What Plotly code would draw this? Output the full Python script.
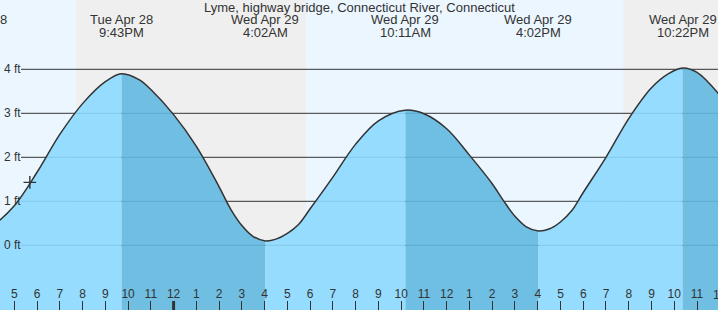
import pandas as pd
import plotly.graph_objects as go

# ---------------- data ----------------
TITLE = "Lyme, highway bridge, Connecticut River, Connecticut"

# tide curve readings (local time, feet)
curve_times = [
    "2020-04-28 15:17", "2020-04-28 16:00", "2020-04-28 17:00", "2020-04-28 18:00",
    "2020-04-28 19:00", "2020-04-28 20:00", "2020-04-28 21:00", "2020-04-28 21:43",
    "2020-04-28 22:30", "2020-04-28 23:00", "2020-04-29 00:00", "2020-04-29 01:00",
    "2020-04-29 02:00", "2020-04-29 02:30", "2020-04-29 03:00", "2020-04-29 03:30",
    "2020-04-29 04:02", "2020-04-29 04:30", "2020-04-29 05:00", "2020-04-29 05:30",
    "2020-04-29 06:00", "2020-04-29 07:00", "2020-04-29 08:00", "2020-04-29 09:00",
    "2020-04-29 10:11", "2020-04-29 11:00", "2020-04-29 12:00", "2020-04-29 13:00",
    "2020-04-29 14:00", "2020-04-29 14:30", "2020-04-29 15:00", "2020-04-29 15:30",
    "2020-04-29 16:02", "2020-04-29 16:30", "2020-04-29 17:00", "2020-04-29 17:30",
    "2020-04-29 18:00", "2020-04-29 19:00", "2020-04-29 20:00", "2020-04-29 21:00",
    "2020-04-29 21:45", "2020-04-29 22:22", "2020-04-29 23:00", "2020-04-30 00:00",
]
curve_ft = [
    0.20, 0.42, 0.90, 1.66,
    2.52, 3.22, 3.72, 3.90,
    3.76, 3.54, 2.97, 2.25,
    1.33, 0.83, 0.45, 0.20,
    0.10, 0.14, 0.27, 0.48,
    0.83, 1.55, 2.30, 2.83,
    3.07, 2.99, 2.65, 2.05,
    1.40, 1.01, 0.66, 0.42,
    0.325, 0.37, 0.53, 0.79,
    1.20, 2.00, 2.88, 3.58,
    3.90, 4.03, 3.93, 3.41,
]

# high / low tides
ext_times = ["2020-04-28 15:17", "2020-04-28 21:43", "2020-04-29 04:02",
             "2020-04-29 10:11", "2020-04-29 16:02", "2020-04-29 22:22"]
ext_ft = [0.20, 3.90, 0.10, 3.07, 0.325, 4.03]
ext_day_labels = ["Tue Apr 28", "Tue Apr 28", "Wed Apr 29",
                  "Wed Apr 29", "Wed Apr 29", "Wed Apr 29"]
ext_time_labels = ["3:17PM", "9:43PM", "4:02AM", "10:11AM", "4:02PM", "10:22PM"]

# night periods (sunset, sunrise)
night_start = ["2020-04-28 19:43", "2020-04-29 19:46"]
night_end = ["2020-04-29 05:49", "2020-04-30 05:50"]

# current time marker
now_time = ["2020-04-28 17:41"]
now_ft = [1.43]

# y labels
ytick_vals = [0, 1, 2, 3, 4]
ytick_text = ["0 ft", "1 ft", "2 ft", "3 ft", "4 ft"]

# hour labels past the right edge (partly visible)
edge_hour_times = ["2020-04-30 00:00"]
edge_hour_text = ["12"]

x_range = ["2020-04-28 16:22:19", "2020-04-29 23:55:19"]
y_range = [-1.470, 5.575]
midnight = "2020-04-29 00:00"

# ---------------- style ----------------
W, H = 718, 310
FONT = "Liberation Sans, Arial, sans-serif"
TXT = "#333333"
DAY_BG = "#ecf6ff"
NIGHT_BG = "#efefef"
LIGHT_FILL = "rgba(140,217,255,0.9)"
DARK_FILL = "rgba(98,185,225,0.9)"
LINE = "#333333"
GRID_START_PX = 21
YLABEL_X_PX = 3
XLABEL_Y_PX = 295

t0 = pd.Timestamp(x_range[0])
t1 = pd.Timestamp(x_range[1])
span = (t1 - t0).total_seconds()


def frac(t):
    return (pd.Timestamp(t) - t0).total_seconds() / span


fig = go.Figure()

# segments between extremes, each clipped by its own x-axis domain
bounds = []
for i in range(len(ext_times)):
    a = max(pd.Timestamp(ext_times[i]), t0)
    b = pd.Timestamp(ext_times[i + 1]) if i + 1 < len(ext_times) else t1
    b = min(b, t1)
    if b <= a:
        continue
    if i + 1 < len(ext_times):
        rising = ext_ft[i + 1] > ext_ft[i]
    else:
        rising = ext_ft[i] < ext_ft[i - 1]
    bounds.append((a, b, rising))

ybot = y_range[0] - 1
layout_axes = {}
n = 0
for (a, b, rising) in bounds:
    n += 1
    axname = "x" if n == 1 else f"x{n}"
    key = "xaxis" if n == 1 else f"xaxis{n}"
    layout_axes[key] = dict(
        type="date", range=[a, b], domain=[frac(a), frac(b)],
        visible=False, anchor="y", fixedrange=True,
    )
    fig.add_trace(go.Scatter(
        x=[curve_times[0], curve_times[-1]], y=[ybot, ybot],
        mode="lines", line=dict(width=0), hoverinfo="skip",
        xaxis=axname, yaxis="y", showlegend=False,
    ))
    fig.add_trace(go.Scatter(
        x=curve_times, y=curve_ft, mode="lines",
        line=dict(width=0, shape="spline"),
        fill="tonexty", fillcolor=LIGHT_FILL if rising else DARK_FILL,
        hoverinfo="skip", xaxis=axname, yaxis="y", showlegend=False,
    ))

n += 1
main_ax = f"x{n}"
main_key = f"xaxis{n}"

fig.add_trace(go.Scatter(
    x=curve_times, y=curve_ft, mode="lines",
    line=dict(color=LINE, width=1.5, shape="spline"),
    xaxis=main_ax, yaxis="y", showlegend=False, hoverinfo="skip",
))
fig.add_trace(go.Scatter(
    x=now_time, y=now_ft, mode="markers",
    marker=dict(symbol="cross-thin", size=9, line=dict(color=LINE, width=1.4)),
    xaxis=main_ax, yaxis="y", showlegend=False, hoverinfo="skip",
))

layout_axes[main_key] = dict(
    type="date", range=x_range, domain=[0, 1], anchor="y",
    showgrid=False, zeroline=False, showline=False,
    tickmode="linear", tick0="2020-04-28 00:00", dtick=3600000,
    tickformat="%-I", ticks="inside", ticklen=9, tickwidth=1, tickcolor=TXT,
    ticklabelposition="inside", ticklabeloverflow="allow",
    tickfont=dict(family=FONT, size=12, color=TXT),
    fixedrange=True,
)

shapes = []
for s, e in zip(night_start, night_end):
    shapes.append(dict(type="rect", xref=main_ax, yref="paper", x0=s, x1=e, y0=0, y1=1,
                       fillcolor=NIGHT_BG, line=dict(width=0), layer="below"))
for v in ytick_vals:
    shapes.append(dict(type="line", xref="paper", yref="y", x0=GRID_START_PX / W, x1=1,
                       y0=v, y1=v, line=dict(color=LINE, width=1), layer="below"))
shapes.append(dict(type="line", xref=main_ax, yref="paper", x0=midnight, x1=midnight,
                   y0=0, y1=9 / H, line=dict(color=TXT, width=3), layer="above"))

annotations = [dict(text=TITLE, xref="paper", yref="paper", x=0.5, y=1 - 8 / H,
                    xanchor="center", yanchor="middle", showarrow=False,
                    font=dict(family=FONT, size=13, color=TXT))]
for t, d, tl in zip(ext_times, ext_day_labels, ext_time_labels):
    f = frac(t)
    for txt, ypx in ((d, 20), (tl, 32.5)):
        annotations.append(dict(text=txt, xref="paper", yref="paper", x=f, y=1 - ypx / H,
                                xanchor="center", yanchor="middle", showarrow=False,
                                font=dict(family=FONT, size=13, color=TXT)))
for v, txt in zip(ytick_vals, ytick_text):
    annotations.append(dict(text=txt, xref="paper", yref="y", x=YLABEL_X_PX / W, y=v,
                            xanchor="left", yanchor="middle", showarrow=False,
                            borderpad=0, font=dict(family=FONT, size=12, color=TXT)))
for t, txt in zip(edge_hour_times, edge_hour_text):
    annotations.append(dict(text=txt, xref="paper", yref="paper", x=frac(t),
                            y=1 - XLABEL_Y_PX / H, xanchor="center", yanchor="middle",
                            showarrow=False, font=dict(family=FONT, size=12, color=TXT)))

fig.update_layout(
    width=W, height=H, margin=dict(l=0, r=0, t=0, b=0),
    paper_bgcolor=DAY_BG, plot_bgcolor="rgba(0,0,0,0)",
    showlegend=False, shapes=shapes, annotations=annotations,
    yaxis=dict(range=y_range, domain=[0, 1], anchor=main_ax,
               showticklabels=False, ticks="", showgrid=False, zeroline=False,
               showline=False, fixedrange=True),
    **layout_axes,
)

fig.write_html("out.html", config={"displayModeBar": False, "staticPlot": True})
